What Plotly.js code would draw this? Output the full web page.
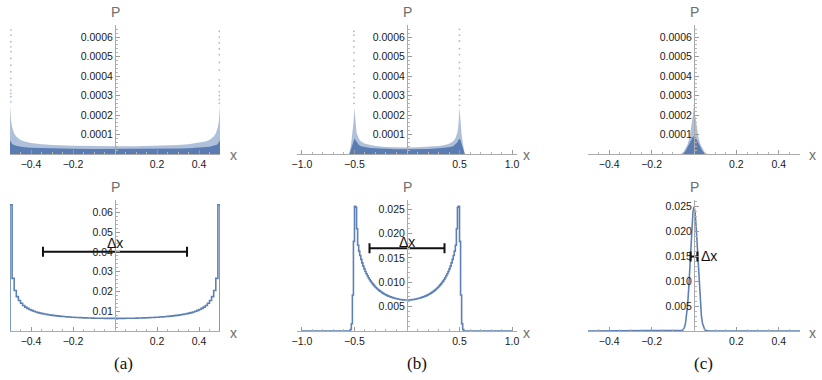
<!DOCTYPE html>
<html>
<head>
<meta charset="utf-8">
<script src="https://cdn.plot.ly/plotly-3.0.1.min.js"></script>
<style>
  html, body { margin: 0; padding: 0; background: #fff; }
  #chart { width: 822px; height: 380px; }
</style>
</head>
<body>
<div id="chart"></div>
<script>
// ---------- data ----------
// Top row: per-state probabilities P vs x, drawn as the dense core, the speckled spread above it,
// and the isolated points that stand out near the edges.
const cloudA_x      = [-0.5, -0.498, -0.495, -0.49, -0.485, -0.48, -0.47, -0.46, -0.45, -0.43, -0.4, -0.35, -0.3, -0.2, -0.1, 0, 0.1, 0.2, 0.3, 0.35, 0.4, 0.43, 0.45, 0.46, 0.47, 0.48, 0.485, 0.49, 0.495, 0.498, 0.5];
const cloudA_spread = [0.00025, 0.00021, 0.00017, 0.00014, 0.00012, 0.000105, 0.00009, 0.00008, 0.000072, 0.000064, 0.000057, 0.00005, 0.000046, 0.000042, 0.00004, 0.00004, 0.00004, 0.000042, 0.000046, 0.00005, 0.000057, 0.000064, 0.000072, 0.00008, 0.00009, 0.000105, 0.00012, 0.00014, 0.00017, 0.00021, 0.00025];
const cloudA_core   = [0.00007, 0.000065, 0.00006, 0.000052, 0.000048, 0.000045, 0.000042, 0.00004, 0.000037, 0.000034, 0.000032, 0.00003, 0.000028, 0.000027, 0.000026, 0.000026, 0.000026, 0.000027, 0.000028, 0.00003, 0.000032, 0.000034, 0.000037, 0.00004, 0.000042, 0.000045, 0.000048, 0.000052, 0.00006, 0.000065, 0.00007];
const spikeA_leftY  = [0.000268, 0.000294, 0.000311, 0.000328, 0.000354, 0.000388, 0.000422, 0.000456, 0.00049, 0.000525, 0.00055, 0.000576, 0.00061, 0.000636];
const spikeA_rightY = [0.00026, 0.00028, 0.0003, 0.00032, 0.00035, 0.00038, 0.00043, 0.00047, 0.00051, 0.00054, 0.00057, 0.0006, 0.00063];

const cloudB_x      = [-0.55, -0.545, -0.54, -0.53, -0.52, -0.51, -0.505, -0.5, -0.495, -0.49, -0.48, -0.46, -0.44, -0.4, -0.35, -0.3, -0.2, -0.1, 0, 0.1, 0.2, 0.3, 0.35, 0.4, 0.44, 0.46, 0.48, 0.49, 0.495, 0.5, 0.505, 0.51, 0.52, 0.53, 0.54, 0.545, 0.55];
const cloudB_spread = [0, 0.00001, 0.00003, 0.00006, 0.0001, 0.00016, 0.0002, 0.00024, 0.0002, 0.00015, 0.00011, 0.00008, 0.000065, 0.000052, 0.000045, 0.000041, 0.000036, 0.000034, 0.000033, 0.000034, 0.000036, 0.000041, 0.000045, 0.000052, 0.000065, 0.00008, 0.00011, 0.00015, 0.0002, 0.00024, 0.0002, 0.00016, 0.0001, 0.00006, 0.00003, 0.00001, 0];
const cloudB_core   = [0, 0.000005, 0.000012, 0.00003, 0.00005, 0.00007, 0.000075, 0.00008, 0.000075, 0.00007, 0.00006, 0.000048, 0.00004, 0.000035, 0.000031, 0.000029, 0.000026, 0.000025, 0.000025, 0.000025, 0.000026, 0.000029, 0.000031, 0.000035, 0.00004, 0.000048, 0.00006, 0.00007, 0.000075, 0.00008, 0.000075, 0.00007, 0.00005, 0.00003, 0.000012, 0.000005, 0];
const spikeB_leftY  = [0.00026, 0.00029, 0.00031, 0.00034, 0.00037, 0.00041, 0.00045, 0.00048, 0.00052, 0.00055, 0.00058, 0.00061, 0.00063];
const spikeB_rightY = [0.00025, 0.00028, 0.0003, 0.00033, 0.00036, 0.0004, 0.00044, 0.00047, 0.00051, 0.00054, 0.00058, 0.00061, 0.00064];

const cloudC_x      = [-0.06, -0.05, -0.04, -0.03, -0.02, -0.015, -0.01, -0.005, 0, 0.005, 0.01, 0.015, 0.02, 0.03, 0.04, 0.05, 0.06];
const cloudC_spread = [0, 0.00001, 0.00003, 0.00005, 0.00009, 0.00012, 0.00016, 0.0002, 0.00024, 0.0002, 0.00016, 0.00012, 0.00009, 0.00005, 0.00003, 0.00001, 0];
const cloudC_core   = [0, 0.000004, 0.000015, 0.000035, 0.00006, 0.00007, 0.00008, 0.000088, 0.00009, 0.000088, 0.00008, 0.00007, 0.00006, 0.000035, 0.000015, 0.000004, 0];
const spikeC_y      = [0.00021, 0.00023, 0.00025];

// Bottom row: binned distributions P(x) and their widths Δx
const binWidth = 0.01;
const histA_start = -0.5;
const histA = [
  0.06377, 0.02657, 0.02049, 0.01736, 0.01538, 0.01406, 0.01286, 0.01207, 0.01142, 0.01086,
  0.01041, 0.00999, 0.00961, 0.00930, 0.00904, 0.00880, 0.00858, 0.00838, 0.00820, 0.00803,
  0.00789, 0.00775, 0.00762, 0.00751, 0.00740, 0.00730, 0.00721, 0.00713, 0.00705, 0.00698,
  0.00692, 0.00685, 0.00680, 0.00674, 0.00670, 0.00665, 0.00661, 0.00658, 0.00654, 0.00651,
  0.00648, 0.00646, 0.00644, 0.00642, 0.00641, 0.00639, 0.00638, 0.00637, 0.00637, 0.00637,
  0.00637, 0.00637, 0.00637, 0.00638, 0.00639, 0.00641, 0.00642, 0.00644, 0.00646, 0.00648,
  0.00651, 0.00654, 0.00658, 0.00661, 0.00665, 0.00670, 0.00674, 0.00680, 0.00685, 0.00692,
  0.00698, 0.00705, 0.00713, 0.00721, 0.00730, 0.00740, 0.00751, 0.00762, 0.00775, 0.00789,
  0.00803, 0.00820, 0.00838, 0.00858, 0.00880, 0.00904, 0.00930, 0.00961, 0.00999, 0.01041,
  0.01086, 0.01142, 0.01207, 0.01286, 0.01406, 0.01538, 0.01736, 0.02049, 0.02657, 0.06377
];
const histB_start = -0.56;
const histB = [
  0, 0, 0.00030, 0.00150, 0.00740, 0.01840, 0.02560, 0.02540, 0.02100, 0.01760,
  0.01640, 0.01550, 0.01470, 0.01398, 0.01333, 0.01275, 0.01223, 0.01176, 0.01133, 0.01094,
  0.01058, 0.01025, 0.00995, 0.00967, 0.00941, 0.00917, 0.00894, 0.00873, 0.00853, 0.00835,
  0.00818, 0.00802, 0.00787, 0.00773, 0.00760, 0.00748, 0.00737, 0.00727, 0.00717, 0.00708,
  0.00700, 0.00692, 0.00685, 0.00678, 0.00672, 0.00666, 0.00661, 0.00656, 0.00652, 0.00648,
  0.00645, 0.00642, 0.00640, 0.00638, 0.00637, 0.00636,
  0.00636, 0.00637, 0.00638, 0.00640, 0.00642, 0.00645, 0.00648, 0.00652, 0.00656, 0.00661,
  0.00666, 0.00672, 0.00678, 0.00685, 0.00692, 0.00700, 0.00708, 0.00717, 0.00727, 0.00737,
  0.00748, 0.00760, 0.00773, 0.00787, 0.00802, 0.00818, 0.00835, 0.00853, 0.00873, 0.00894,
  0.00917, 0.00941, 0.00967, 0.00995, 0.01025, 0.01058, 0.01094, 0.01133, 0.01176, 0.01223,
  0.01275, 0.01333, 0.01398, 0.01470, 0.01550, 0.01640, 0.01760, 0.02100, 0.02540, 0.02560,
  0.01840, 0.00740, 0.00150, 0.00030, 0, 0
];
const curveC_x = [-0.5, -0.07, -0.065, -0.06, -0.055, -0.05, -0.045, -0.04, -0.035, -0.03, -0.025, -0.02, -0.015, -0.01, -0.005, 0,
                  0.005, 0.01, 0.015, 0.02, 0.025, 0.03, 0.035, 0.04, 0.045, 0.05, 0.055, 0.06, 0.065, 0.07, 0.5];
const curveC_y = [0, 0, 0.00002, 0.00005, 0.00013, 0.00033, 0.00075, 0.00157, 0.00300, 0.00527, 0.00848, 0.01251, 0.01694, 0.02103, 0.02394, 0.02500,
                  0.02394, 0.02103, 0.01694, 0.01251, 0.00848, 0.00527, 0.00300, 0.00157, 0.00075, 0.00033, 0.00013, 0.00005, 0.00002, 0, 0];

const deltaX = { a: 0.343, b: 0.357, c: 0.016 };
const deltaY = { a: 0.040, b: 0.017, c: 0.015 };

const topTicks   = [0.0001, 0.0002, 0.0003, 0.0004, 0.0005, 0.0006];
const topLabels  = ['0.0001', '0.0002', '0.0003', '0.0004', '0.0005', '0.0006'];
const aTicks     = [0.01, 0.02, 0.03, 0.04, 0.05, 0.06];
const aLabels    = ['0.01', '0.02', '0.03', '0.04', '0.05', '0.06'];
const bcTicks    = [0.005, 0.010, 0.015, 0.020, 0.025];
const bcLabels   = ['0.005', '0.010', '0.015', '0.020', '0.025'];
const xTicksHalf = [-0.4, -0.2, 0.2, 0.4];
const xTicksHalfLabels = ['−0.4', '−0.2', '0.2', '0.4'];
const xTicksOne  = [-1.0, -0.5, 0.5, 1.0];
const xTicksOneLabels = ['−1.0', '−0.5', '0.5', '1.0'];

// ---------- helpers ----------
const W = 822, H = 380;
const BLUE = 'rgb(94,129,181)';
const px = p => p / W;
const py = p => 1 - p / H;

function stepTrace(start, values, xa, ya, leftEnd, rightEnd) {
  const xs = [], ys = [];
  if (leftEnd !== undefined) { xs.push(leftEnd); ys.push(0); }
  xs.push(start); ys.push(0);
  values.forEach((v, i) => { xs.push(start + i * binWidth); ys.push(v); });
  const end = start + values.length * binWidth;
  xs.push(end); ys.push(0);
  if (rightEnd !== undefined) { xs.push(rightEnd); ys.push(0); }
  return { x: xs, y: ys, xaxis: xa, yaxis: ya, type: 'scatter', mode: 'lines',
           line: { color: BLUE, width: 1.6, shape: 'hv' }, hoverinfo: 'skip' };
}
function fillTrace(xs, ys, xa, ya, color) {
  return { x: xs, y: ys, xaxis: xa, yaxis: ya, type: 'scatter', mode: 'lines',
           fill: 'tozeroy', fillcolor: color, line: { width: 0, color: color }, hoverinfo: 'skip' };
}
function dotsTrace(xv, ys, xa, ya) {
  return { x: ys.map(() => xv), y: ys, xaxis: xa, yaxis: ya, type: 'scatter', mode: 'markers',
           marker: { color: 'rgba(94,129,181,0.55)', size: 1.8 }, hoverinfo: 'skip' };
}
function widthBar(key, xa, ya) {
  return { x: [0], y: [deltaY[key]], xaxis: xa, yaxis: ya, type: 'scatter', mode: 'markers',
           marker: { color: 'rgba(0,0,0,0)', size: 1 },
           error_x: { type: 'data', array: [deltaX[key]], symmetric: true, visible: true,
                      color: '#111', thickness: 2, width: 5 }, hoverinfo: 'skip' };
}

const SPREAD = 'rgba(94,129,181,0.5)';
const CORE = 'rgb(90,124,178)';

const traces = [
  fillTrace(cloudA_x, cloudA_spread, 'x', 'y', SPREAD),
  fillTrace(cloudA_x, cloudA_core, 'x', 'y', CORE),
  dotsTrace(-0.496, spikeA_leftY, 'x', 'y'),
  dotsTrace(0.497, spikeA_rightY, 'x', 'y'),

  fillTrace(cloudB_x, cloudB_spread, 'x2', 'y2', SPREAD),
  fillTrace(cloudB_x, cloudB_core, 'x2', 'y2', CORE),
  dotsTrace(-0.505, spikeB_leftY, 'x2', 'y2'),
  dotsTrace(0.5, spikeB_rightY, 'x2', 'y2'),

  fillTrace(cloudC_x, cloudC_spread, 'x3', 'y3', SPREAD),
  fillTrace(cloudC_x, cloudC_core, 'x3', 'y3', CORE),
  dotsTrace(0.001, spikeC_y, 'x3', 'y3'),

  stepTrace(histA_start, histA, 'x4', 'y4'),
  widthBar('a', 'x4', 'y4'),
  stepTrace(histB_start, histB, 'x5', 'y5', -1.0, 1.0),
  widthBar('b', 'x5', 'y5'),
  { x: curveC_x, y: curveC_y, xaxis: 'x6', yaxis: 'y6', type: 'scatter', mode: 'lines',
    line: { color: BLUE, width: 1.6 }, hoverinfo: 'skip' },
  widthBar('c', 'x6', 'y6')
];

// ---------- axes ----------
const tickFont = { family: 'Liberation Sans, Arial, sans-serif', size: 10.5, color: '#1a1a1a' };
function xAxis(dom, range, anchor, vals, labels, minorStep) {
  return { domain: [px(dom[0]), px(dom[1])], range: range, anchor: anchor,
           tickmode: 'array', tickvals: vals, ticktext: labels, tickfont: tickFont,
           ticks: 'inside', ticklen: 4, tickcolor: '#9a9a9a', tickwidth: 1,
           minor: { ticks: 'inside', ticklen: 2, tickmode: 'linear', tick0: 0, dtick: minorStep, tickcolor: '#b5b5b5', showgrid: false },
           showline: true, linecolor: '#aaaaaa', linewidth: 1,
           showgrid: false, zeroline: false, fixedrange: true };
}
function yAxis(dom, range, zeroPx, vals, labels, minorStep) {
  return { domain: [py(dom[1]), py(dom[0])], range: range, anchor: 'free', position: px(zeroPx),
           tickmode: 'array', tickvals: vals, ticktext: labels, tickfont: tickFont,
           ticks: 'inside', ticklen: 4, tickcolor: '#9a9a9a', tickwidth: 1,
           minor: { ticks: 'inside', ticklen: 2, tickmode: 'linear', tick0: 0, dtick: minorStep, tickcolor: '#b5b5b5', showgrid: false },
           showline: true, linecolor: '#aaaaaa', linewidth: 1,
           showgrid: false, zeroline: false, fixedrange: true };
}

const colA = [10, 220], colB = [296.7, 517.3], colC = [588, 800];
const zeroA = 115, zeroB = 407, zeroC = 694;
const topRow = [25, 154], botRow = [200, 331];

// ---------- labels ----------
const labelFont = { family: 'Liberation Sans, Arial, sans-serif', size: 14, color: '#6e6e6e' };
const capFont = { family: 'Liberation Serif, DejaVu Serif, serif', size: 17, color: '#111' };
const dxFont = { family: 'Liberation Sans, Arial, sans-serif', size: 14, color: '#111' };
const annotations = [];
[[zeroA, 233], [zeroB, 526.7], [zeroC, 812.7]].forEach(([zp, xp]) => {
  annotations.push({ xref: 'paper', yref: 'paper', x: px(zp), y: py(12), text: 'P', showarrow: false, font: labelFont, xanchor: 'center', yanchor: 'middle' });
  annotations.push({ xref: 'paper', yref: 'paper', x: px(zp), y: py(187.3), text: 'P', showarrow: false, font: labelFont, xanchor: 'center', yanchor: 'middle' });
  annotations.push({ xref: 'paper', yref: 'paper', x: px(xp), y: py(155), text: 'x', showarrow: false, font: labelFont, xanchor: 'center', yanchor: 'middle' });
  annotations.push({ xref: 'paper', yref: 'paper', x: px(xp), y: py(332.7), text: 'x', showarrow: false, font: labelFont, xanchor: 'center', yanchor: 'middle' });
});
[['(a)', 123.3], ['(b)', 417], ['(c)', 703]].forEach(([t, xp]) => {
  annotations.push({ xref: 'paper', yref: 'paper', x: px(xp), y: py(363), text: t, showarrow: false, font: capFont, xanchor: 'center', yanchor: 'middle' });
});
annotations.push({ xref: 'x4', yref: 'y4', x: 0, y: deltaY.a, text: 'Δx', showarrow: false, font: dxFont, xanchor: 'center', yanchor: 'bottom', yshift: -1 });
annotations.push({ xref: 'x5', yref: 'y5', x: 0, y: deltaY.b, text: 'Δx', showarrow: false, font: dxFont, xanchor: 'center', yanchor: 'bottom', yshift: -4 });
annotations.push({ xref: 'x6', yref: 'y6', x: 0.023, y: deltaY.c, text: 'Δx', showarrow: false, font: dxFont, xanchor: 'left', yanchor: 'middle' });

const layout = {
  width: W, height: H,
  margin: { l: 0, r: 0, t: 0, b: 0 },
  paper_bgcolor: '#ffffff', plot_bgcolor: 'rgba(0,0,0,0)',
  showlegend: false,
  xaxis:  xAxis(colA, [-0.5, 0.5], 'y',  xTicksHalf, xTicksHalfLabels, 0.05),
  xaxis2: xAxis(colB, [-1.05, 1.05], 'y2', xTicksOne, xTicksOneLabels, 0.1),
  xaxis3: xAxis(colC, [-0.5, 0.5], 'y3', xTicksHalf, xTicksHalfLabels, 0.05),
  xaxis4: xAxis(colA, [-0.5, 0.5], 'y4', xTicksHalf, xTicksHalfLabels, 0.05),
  xaxis5: xAxis(colB, [-1.05, 1.05], 'y5', xTicksOne, xTicksOneLabels, 0.1),
  xaxis6: xAxis(colC, [-0.5, 0.5], 'y6', xTicksHalf, xTicksHalfLabels, 0.05),
  yaxis:  yAxis(topRow, [0, 0.000662], zeroA, topTicks, topLabels, 0.00002),
  yaxis2: yAxis(topRow, [0, 0.000662], zeroB, topTicks, topLabels, 0.00002),
  yaxis3: yAxis(topRow, [0, 0.000662], zeroC, topTicks, topLabels, 0.00002),
  yaxis4: yAxis(botRow, [0, 0.0662], zeroA, aTicks, aLabels, 0.002),
  yaxis5: yAxis(botRow, [0, 0.0269], zeroB, bcTicks, bcLabels, 0.001),
  yaxis6: yAxis(botRow, [0, 0.02635], zeroC, bcTicks, bcLabels, 0.001),
  annotations: annotations
};

Plotly.newPlot('chart', traces, layout, { displayModeBar: false, staticPlot: true });
</script>
</body>
</html>
